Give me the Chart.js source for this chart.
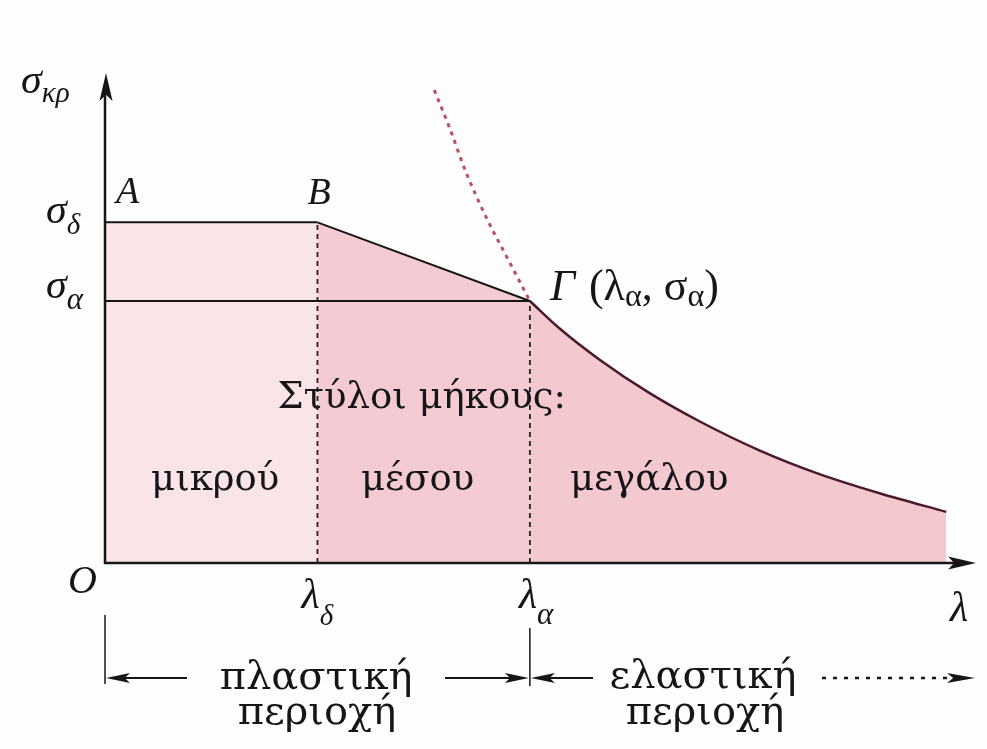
<!DOCTYPE html>
<html>
<head>
<meta charset="utf-8">
<script src="https://cdn.jsdelivr.net/npm/chart.js@4.4.0/dist/chart.umd.min.js"></script>
<style>
  html, body { margin: 0; padding: 0; background: #fefefe; }
  canvas { display: block; }
</style>
</head>
<body>
<canvas id="buckling" width="987" height="749"></canvas>
<script>
// axis ranges (slenderness λ, critical stress σκρ)
var lambdaRange = [0, 205];
var sigmaRange = [0, 374];

// plastic plateau A-B, linear transition B-Γ, Euler hyperbola Γ onwards
var plateauLambda = [0, 50];
var plateauSigma = [260, 260];
var transitionLambda = [50, 100];
var transitionSigma = [260, 200];
var eulerLambda = [100, 107, 116.5, 128, 140, 154, 168, 182.5, 198];
var eulerSigma = [200, 179, 155, 130, 108, 86, 68, 53, 39];
// Euler curve continued above Γ (not valid there)
var eulerExtLambda = [77.5, 81, 85, 90, 94.5, 100];
var eulerExtSigma = [361, 333, 298, 262, 234, 200];
// σα level and the two boundary slenderness values
var sigmaALambda = [0, 100];
var sigmaASigma = [200, 200];
var limitLambdas = [50, 100];
var limitSigmas = [260, 200];

function pts(xs, ys) {
    return xs.map(function (v, i) { return { x: v, y: ys[i] }; });
}

var mathFont = '"Liberation Serif", "DejaVu Serif", serif';
var textFont = '"DejaVu Serif", "Liberation Serif", serif';

function withSub(ctx, x, y, base, baseFont, s, subFont, dy) {
    ctx.font = baseFont;
    ctx.fillText(base, x, y);
    var w = ctx.measureText(base).width;
    ctx.font = subFont;
    ctx.fillText(s, x + w, y + dy);
    return x + w + ctx.measureText(s).width;
}

function arrowHead(ctx, tx, ty, dir, len, half) {
    // dir: 1 = pointing right, -1 = left, 'up' = pointing up
    ctx.beginPath();
    if (dir === 'up') {
        ctx.moveTo(tx, ty);
        ctx.lineTo(tx - half, ty + len);
        ctx.lineTo(tx, ty + len * 0.78);
        ctx.lineTo(tx + half, ty + len);
    } else {
        ctx.moveTo(tx, ty);
        ctx.lineTo(tx - dir * len, ty - half);
        ctx.lineTo(tx - dir * len * 0.78, ty);
        ctx.lineTo(tx - dir * len, ty + half);
    }
    ctx.closePath();
    ctx.fill();
}

function seg(ctx, x1, y1, x2, y2, w, dash) {
    ctx.save();
    ctx.lineWidth = w;
    ctx.setLineDash(dash || []);
    ctx.beginPath();
    ctx.moveTo(x1, y1);
    ctx.lineTo(x2, y2);
    ctx.stroke();
    ctx.restore();
}

var diagram = {
    id: 'diagram',
    afterDatasetsDraw: function (chart) {
        var ctx = chart.ctx;
        var sx = chart.scales.x, sy = chart.scales.y;
        var px = function (v) { return sx.getPixelForValue(v); };
        var py = function (v) { return sy.getPixelForValue(v); };
        var x0 = px(0), y0 = py(0);
        var xEnd = px(lambdaRange[1]), yTop = py(sigmaRange[1]);
        var lD = px(limitLambdas[0]), lA = px(limitLambdas[1]);

        ctx.save();
        ctx.strokeStyle = '#161616';
        ctx.fillStyle = '#161616';

        // axes with arrows
        seg(ctx, x0, y0 + 1, x0, yTop + 20, 2.5);
        seg(ctx, x0 - 1, y0, xEnd - 20, y0, 2.5);
        arrowHead(ctx, x0 + 1, yTop, 'up', 28, 6.5);
        arrowHead(ctx, xEnd, y0, 1, 28, 6.5);

        // axis letters
        ctx.textBaseline = 'alphabetic';
        ctx.textAlign = 'left';
        withSub(ctx, x0 - 84, yTop + 20, 'σ', 'italic 42px ' + mathFont, 'κρ', 'italic 29px ' + mathFont, 9);
        ctx.font = 'italic 38px ' + mathFont;
        ctx.fillText('A', x0 + 11, py(260) - 19);
        ctx.fillText('B', lD - 10, py(260) - 18);
        withSub(ctx, x0 - 59, py(260) + 1, 'σ', 'italic 42px ' + mathFont, 'δ', 'italic 29px ' + mathFont, 11);
        withSub(ctx, x0 - 59, py(200) - 3, 'σ', 'italic 42px ' + mathFont, 'α', 'italic 31px ' + mathFont, 11);

        // Γ (λα, σα)
        ctx.font = 'italic 44px ' + mathFont;
        ctx.fillText('Γ', lA + 20, py(200) - 1);
        var gx = lA + 20 + ctx.measureText('Γ').width + 14;
        var gy = py(200) - 1;
        ctx.font = '44px ' + mathFont;
        ctx.fillText('(', gx, gy);
        gx += ctx.measureText('(').width;
        gx = withSub(ctx, gx, gy, 'λ', '44px ' + mathFont, 'α', '32px ' + mathFont, 6);
        gx = withSub(ctx, gx, gy, ', σ', '44px ' + mathFont, 'α', '32px ' + mathFont, 6);
        ctx.font = '44px ' + mathFont;
        ctx.fillText(')', gx, gy);

        ctx.font = 'italic 40px ' + mathFont;
        ctx.textAlign = 'right';
        ctx.fillText('O', x0 - 8, y0 + 30);
        ctx.textAlign = 'left';
        withSub(ctx, lD - 16, y0 + 45, 'λ', 'italic 42px ' + mathFont, 'δ', 'italic 29px ' + mathFont, 17);
        withSub(ctx, lA - 11, y0 + 45, 'λ', 'italic 42px ' + mathFont, 'α', 'italic 31px ' + mathFont, 16);
        ctx.font = 'italic 42px ' + mathFont;
        ctx.fillText('λ', xEnd - 26, y0 + 58);

        // column length classes
        ctx.font = '37px ' + textFont;
        ctx.textAlign = 'center';
        ctx.fillText('Στύλοι μήκους:', (lD + lA) / 2 - 2, 408);
        ctx.fillText('μικρού', (x0 + lD) / 2 + 4, 490);
        ctx.fillText('μέσου', (lD + lA) / 2 - 6, 490);
        ctx.textAlign = 'left';
        ctx.fillText('μεγάλου', lA + 40, 490);

        // plastic / elastic ranges below the axis
        var ay = 678;
        seg(ctx, x0, 615, x0, 684, 1.5);
        seg(ctx, lA, 628, lA, 686, 1.5);
        seg(ctx, x0 + 10, ay, 187, ay, 2);
        arrowHead(ctx, x0 + 1, ay, -1, 24, 5);
        seg(ctx, 445, ay, lA - 10, ay, 2);
        arrowHead(ctx, lA - 1, ay, 1, 24, 5);
        seg(ctx, lA + 10, ay, 593, ay, 2);
        arrowHead(ctx, lA + 1, ay, -1, 24, 5);
        seg(ctx, 822, ay, 950, ay, 2.5, [4, 7]);
        arrowHead(ctx, 975, ay, 1, 28, 5);

        ctx.font = '40px ' + textFont;
        ctx.textAlign = 'center';
        ctx.fillText('πλαστική', 316, 689);
        ctx.fillText('περιοχή', 317, 724);
        ctx.fillText('ελαστική', 703, 688);
        ctx.fillText('περιοχή', 705, 724);
        ctx.restore();
    }
};

new Chart(document.getElementById('buckling'), {
    type: 'line',
    data: {
        datasets: [
            {
                data: pts(plateauLambda, plateauSigma),
                borderColor: '#161616',
                borderWidth: 2,
                backgroundColor: '#f9e4e7',
                fill: 'origin'
            },
            {
                data: pts(transitionLambda, transitionSigma),
                borderColor: '#161616',
                borderWidth: 2,
                backgroundColor: '#f4cbd2',
                fill: 'origin'
            },
            {
                data: pts(eulerLambda, eulerSigma),
                borderColor: '#4a1a28',
                borderWidth: 2.5,
                backgroundColor: '#f3c8cf',
                fill: 'origin',
                cubicInterpolationMode: 'monotone'
            },
            {
                data: pts(eulerExtLambda, eulerExtSigma),
                borderColor: '#b8525f',
                borderWidth: 3,
                borderDash: [4, 5],
                fill: false,
                cubicInterpolationMode: 'monotone'
            },
            {
                data: pts(sigmaALambda, sigmaASigma),
                borderColor: '#161616',
                borderWidth: 2,
                fill: false
            },
            {
                data: pts([limitLambdas[0], limitLambdas[0]], [0, limitSigmas[0]]),
                borderColor: '#222222',
                borderWidth: 1.8,
                borderDash: [5, 4],
                fill: false
            },
            {
                data: pts([limitLambdas[1], limitLambdas[1]], [0, limitSigmas[1]]),
                borderColor: '#222222',
                borderWidth: 1.8,
                borderDash: [5, 4],
                fill: false
            }
        ]
    },
    options: {
        responsive: false,
        animation: false,
        layout: { padding: { left: 105, right: 11, top: 73, bottom: 186 } },
        elements: { point: { radius: 0 }, line: { tension: 0 } },
        plugins: {
            legend: { display: false },
            tooltip: { enabled: false },
            filler: { drawTime: 'beforeDatasetsDraw' }
        },
        scales: {
            x: { type: 'linear', min: lambdaRange[0], max: lambdaRange[1], display: false },
            y: { type: 'linear', min: sigmaRange[0], max: sigmaRange[1], display: false }
        }
    },
    plugins: [diagram]
});
</script>
</body>
</html>
